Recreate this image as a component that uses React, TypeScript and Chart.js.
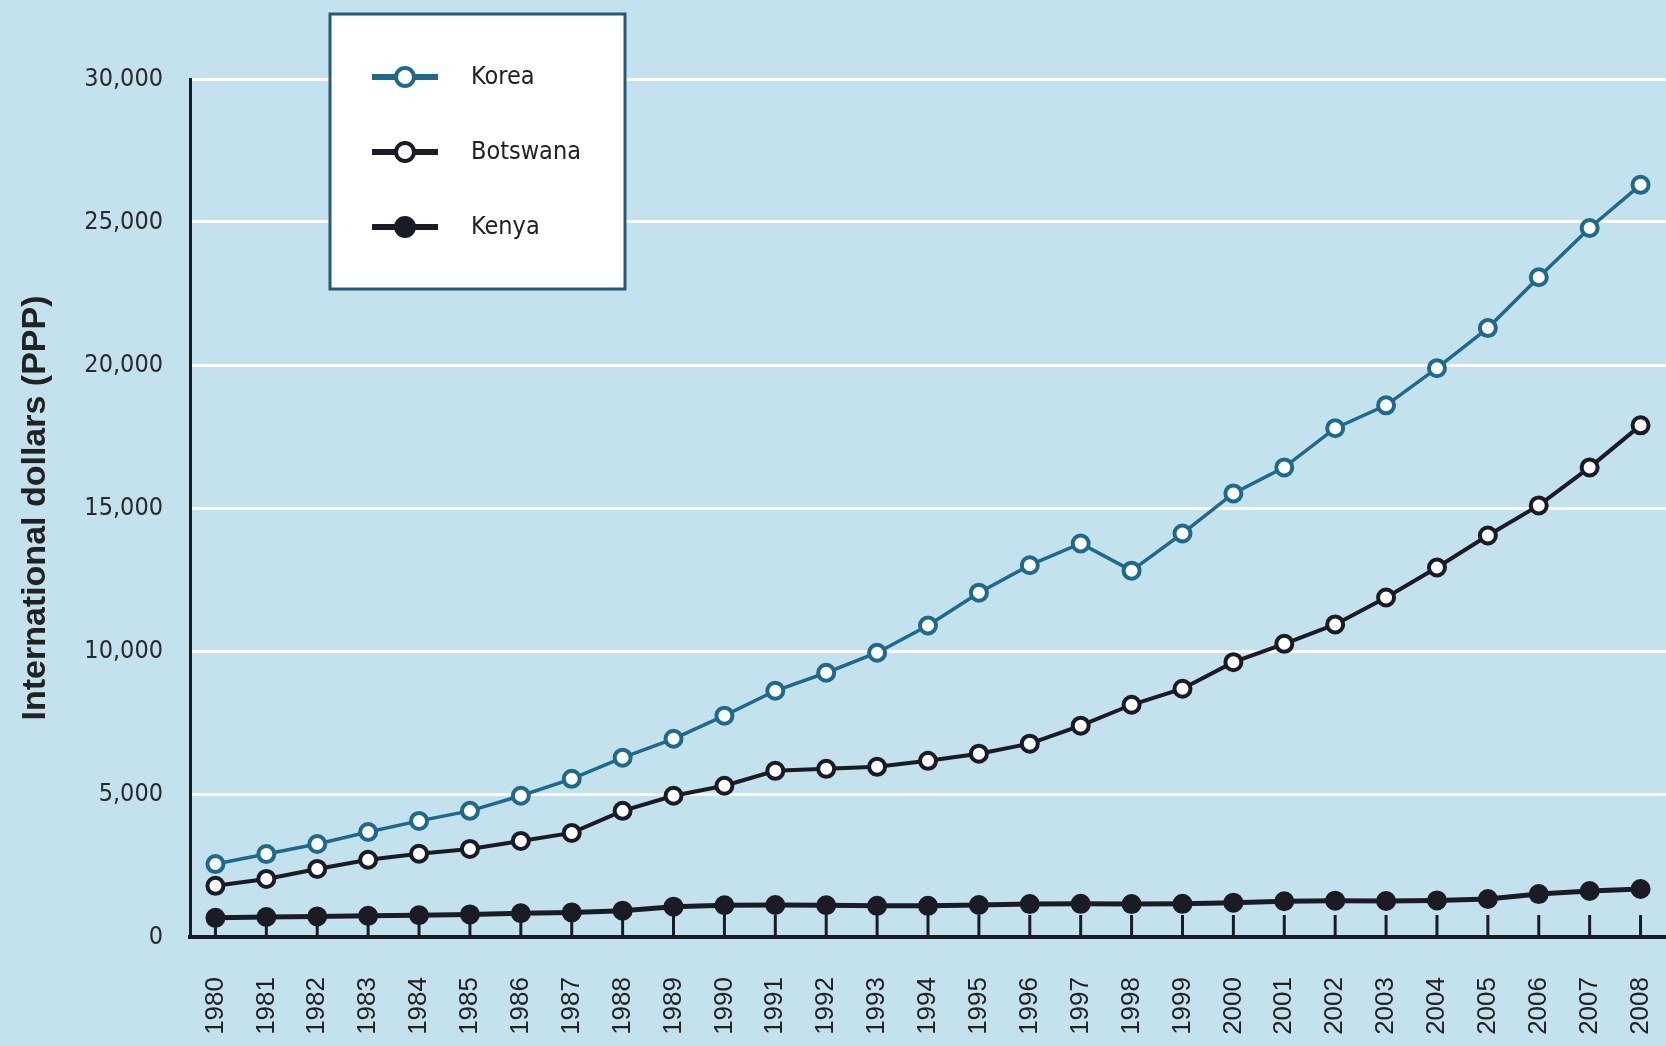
import React, { useEffect, useRef } from "react";
import { Chart, registerables } from "chart.js";

Chart.register(...registerables);

const years = [
  "1980", "1981", "1982", "1983", "1984", "1985", "1986", "1987", "1988", "1989",
  "1990", "1991", "1992", "1993", "1994", "1995", "1996", "1997", "1998", "1999",
  "2000", "2001", "2002", "2003", "2004", "2005", "2006", "2007", "2008",
];

const korea = [
  2550, 2900, 3250, 3670, 4060, 4410, 4940, 5530, 6270, 6930,
  7740, 8610, 9240, 9940, 10890, 12040, 13000, 13760, 12810, 14110,
  15510, 16420, 17790, 18590, 19890, 21290, 23070, 24790, 26300,
];

const botswana = [
  1790, 2030, 2380, 2700, 2910, 3080, 3360, 3640, 4410, 4940,
  5290, 5810, 5880, 5950, 6160, 6410, 6760, 7390, 8120, 8680,
  9610, 10250, 10930, 11870, 12920, 14040, 15090, 16420, 17890,
];

const kenya = [
  670, 700, 720, 740, 760, 790, 830, 860, 920, 1060,
  1110, 1120, 1110, 1090, 1090, 1120, 1150, 1160, 1150, 1160,
  1200, 1250, 1270, 1260, 1280, 1330, 1500, 1610, 1680,
];

const seriesNames = ["Korea", "Botswana", "Kenya"];
const yTicks = [0, 5000, 10000, 15000, 20000, 25000, 30000];
const yTitle = "International dollars (PPP)";

const NARROW = '"Liberation Sans Narrow", "DejaVu Sans Condensed", "Arial Narrow", sans-serif';
const SANS = '"Liberation Sans", Arial, sans-serif';
const BG = "#c4e2ee";
const DARK = "#1b1b26";
const KOREA_BLUE = "#1e6a8c";

const dropTicks = {
  id: "dropTicks",
  beforeDatasetsDraw(chart: any) {
    const { ctx, chartArea, scales } = chart;
    const xs = scales.x;
    ctx.save();
    ctx.strokeStyle = DARK;
    ctx.lineWidth = 3;
    for (let i = 0; i < years.length; i++) {
      const x = xs.getPixelForTick(i);
      ctx.beginPath();
      ctx.moveTo(x, chartArea.bottom);
      ctx.lineTo(x, chartArea.bottom - 22);
      ctx.stroke();
    }
    ctx.restore();
  },
};

const legendBox = {
  id: "legendBox",
  afterDraw(chart: any) {
    const { ctx } = chart;
    ctx.save();
    ctx.fillStyle = "#ffffff";
    ctx.fillRect(330, 14, 295, 275);
    ctx.strokeStyle = "#24587f";
    ctx.lineWidth = 3;
    ctx.strokeRect(330, 14, 295, 275);
    const rows = [77, 152, 227];
    chart.data.datasets.forEach((ds: any, i: number) => {
      const y = rows[i];
      ctx.strokeStyle = ds.borderColor;
      ctx.lineWidth = 6;
      ctx.beginPath();
      ctx.moveTo(372, y);
      ctx.lineTo(438, y);
      ctx.stroke();
      ctx.beginPath();
      ctx.arc(405, y, 9, 0, Math.PI * 2);
      ctx.fillStyle = ds.pointBackgroundColor;
      ctx.fill();
      ctx.lineWidth = 4;
      ctx.strokeStyle = ds.pointBorderColor;
      ctx.stroke();
      ctx.fillStyle = "#222";
      ctx.font = `25px ${NARROW}`;
      ctx.textBaseline = "middle";
      ctx.textAlign = "left";
      ctx.fillText(ds.label, 471, y);
    });
    ctx.restore();
  },
};

export default function App() {
  const ref = useRef<HTMLCanvasElement | null>(null);

  useEffect(() => {
    if (!ref.current) return;
    const chart = new Chart(ref.current, {
      type: "line",
      data: {
        labels: years,
        datasets: [
          {
            label: seriesNames[0],
            data: korea,
            borderColor: KOREA_BLUE,
            borderWidth: 3.5,
            pointRadius: 8,
            pointBorderWidth: 4,
            pointBackgroundColor: "#ffffff",
            pointBorderColor: KOREA_BLUE,
            tension: 0,
          },
          {
            label: seriesNames[1],
            data: botswana,
            borderColor: DARK,
            borderWidth: 4,
            pointRadius: 8,
            pointBorderWidth: 4,
            pointBackgroundColor: "#ffffff",
            pointBorderColor: DARK,
            tension: 0,
          },
          {
            label: seriesNames[2],
            data: kenya,
            borderColor: DARK,
            borderWidth: 5,
            pointRadius: 9,
            pointBorderWidth: 2,
            pointBackgroundColor: DARK,
            pointBorderColor: DARK,
            tension: 0,
          },
        ],
      },
      options: {
        responsive: false,
        animation: false,
        layout: { autoPadding: false, padding: { top: 79, right: 0, bottom: 0, left: 0 } },
        plugins: {
          legend: { display: false },
          tooltip: { enabled: false },
        },
        scales: {
          x: {
            offset: true,
            grid: { display: false, drawTicks: false },
            border: { display: true, color: DARK, width: 4 },
            ticks: {
              autoSkip: false,
              minRotation: 90,
              maxRotation: 90,
              padding: 40,
              color: "#222",
              font: { family: SANS, size: 26 },
            },
            afterFit: (s: any) => {
              s.height = 109;
              s.paddingLeft = 0;
              s.paddingRight = 0;
            },
          },
          y: {
            min: yTicks[0],
            max: yTicks[yTicks.length - 1],
            afterBuildTicks: (s: any) => {
              s.ticks = yTicks.map((v) => ({ value: v }));
            },
            ticks: {
              padding: 27,
              color: "#2a2a2a",
              font: { family: NARROW, size: 25 },
              callback: (v: any) => Number(v).toLocaleString("en-US"),
            },
            grid: {
              drawTicks: false,
              lineWidth: 3,
              color: (c: any) => (c.tick && c.tick.value === 0 ? "rgba(0,0,0,0)" : "#ffffff"),
            },
            border: { display: true, color: DARK, width: 3 },
            title: {
              display: true,
              text: yTitle,
              color: "#222",
              font: { family: SANS, size: 34, weight: "bold" },
              padding: { top: 15, bottom: 0 },
            },
            afterFit: (s: any) => {
              s.width = 190;
              s.paddingTop = 0;
              s.paddingBottom = 0;
            },
          },
        },
      },
      plugins: [dropTicks, legendBox],
    });
    return () => chart.destroy();
  }, []);

  return (
    <div
      style={{
        position: "fixed",
        left: 0,
        top: 0,
        width: 1666,
        height: 1046,
        background: BG,
      }}
    >
      <canvas ref={ref} width={1666} height={1046} style={{ display: "block" }} />
    </div>
  );
}
